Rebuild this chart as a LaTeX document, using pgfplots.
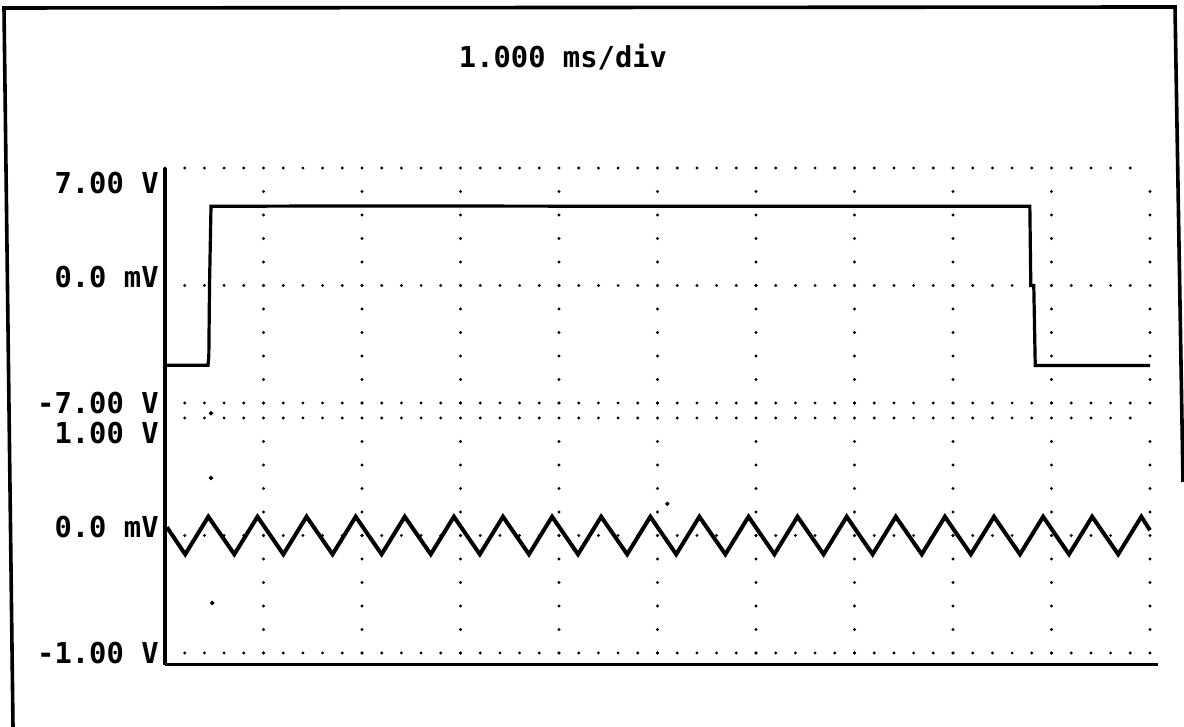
\documentclass[border=0pt]{standalone}
\usepackage{fontspec}
\usepackage{pgfplots}
\pgfplotsset{compat=1.18}
\newfontfamily\scopefont{DejaVu Sans Mono}

% 1 px of the screen dump = 0.5pt
\pgfplotsset{
  channel/.style={
    scale only axis,
    width=492.5pt, height=117.5pt,
    anchor=south west,
    xmin=0, xmax=10,
    xtick={0,...,10}, xticklabels={},
    yticklabels={},
    axis line style={draw=none},
    major tick length=0pt,
    xmajorgrids, ymajorgrids,
    x grid style={black, line width=1.6pt, line cap=round, dash pattern=on 0pt off 11.75pt},
    y grid style={black, line width=1.6pt, line cap=round, dash pattern=on 0pt off 9.85pt},
    extra y tick style={grid=none},
    yticklabel style={font=\scopefont\bfseries\fontsize{14.4}{16}\selectfont, anchor=east, inner sep=0pt, xshift=-3pt},
    clip=false,
  }
}

\begin{document}
\begin{tikzpicture}
\useasboundingbox (0,0) rectangle (592pt,363.5pt);

% channel 1: square wave
\begin{axis}[channel, at={(82.5pt,162pt)},
  ymin=-7, ymax=7, ytick={-7,0,7},
  extra y ticks={6.1,0.48,-7},
  extra y tick labels={7.00 V,0.0 mV,-7.00 V}]
\addplot[black, line width=1.6pt] coordinates {
(0,-4.75) (0.437,-4.75) (0.445,-4.2) (0.452,0) (0.467,4.72)
(2,4.74) (5,4.72) (8.78,4.72) (8.79,0) (8.82,0) (8.835,-4.77) (10,-4.77)};
\end{axis}

% channel 2: triangle wave
\begin{axis}[channel, at={(82.5pt,37pt)},
  ymin=-1, ymax=1, ytick={-1,0,1},
  extra y ticks={0.872,0.068,-1},
  extra y tick labels={1.00 V,0.0 mV,-1.00 V}]
\addplot[black, line width=2pt, line join=miter] coordinates {
(0.02,0.07)
(0.205,-0.16) (0.44,0.16)
(0.704,-0.16) (0.939,0.16)
(1.202,-0.16) (1.437,0.16)
(1.701,-0.16) (1.936,0.16)
(2.199,-0.16) (2.434,0.16)
(2.698,-0.16) (2.933,0.16)
(3.196,-0.16) (3.431,0.16)
(3.695,-0.16) (3.930,0.16)
(4.193,-0.16) (4.428,0.16)
(4.692,-0.16) (4.927,0.16)
(5.190,-0.16) (5.425,0.16)
(5.689,-0.16) (5.924,0.16)
(6.187,-0.16) (6.422,0.16)
(6.686,-0.16) (6.921,0.16)
(7.184,-0.16) (7.419,0.16)
(7.683,-0.16) (7.918,0.16)
(8.181,-0.16) (8.416,0.16)
(8.680,-0.16) (8.915,0.16)
(9.178,-0.16) (9.413,0.16)
(9.677,-0.16) (9.912,0.16)
(10,0.045)};
% stray glitch dots
\addplot[only marks, mark=*, mark size=0.9pt, black] coordinates {
(0.467,1.04) (0.467,0.49) (0.48,-0.574) (5.1,0.27)};
\end{axis}

% axis lines of the display
\draw[line width=1.5pt] (82.5pt,31pt) -- (579pt,31pt);
\draw[line width=1.8pt] (82.5pt,31pt) -- (82.5pt,279.5pt);

% title
\node[font=\scopefont\bfseries\fontsize{14.4}{16}\selectfont] at (281.5pt,335pt) {1.000 ms/div};

% outer frame
\draw[line width=1.8pt] (6.5pt,0pt) -- (2pt,359.5pt) -- (587.5pt,360pt) -- (591.5pt,122.5pt);
\end{tikzpicture}
\end{document}
